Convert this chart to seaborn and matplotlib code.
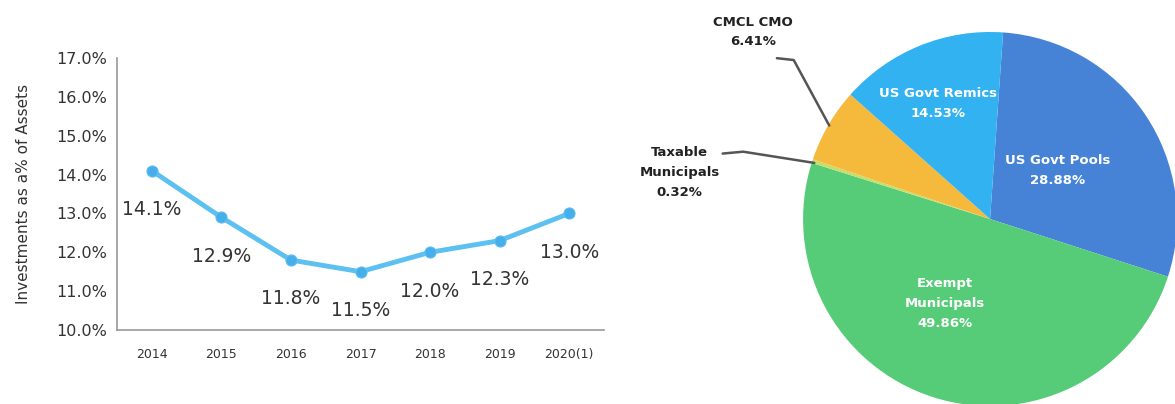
import pandas as pd
import seaborn as sns
import matplotlib.pyplot as plt

# Line chart data
years = ["2014", "2015", "2016", "2017", "2018", "2019", "2020(1)"]
invest_pct = [14.1, 12.9, 11.8, 11.5, 12.0, 12.3, 13.0]

# Pie chart data (clockwise from top)
pie_labels = ["US Govt Pools", "Exempt\nMunicipals", "Taxable\nMunicipals", "CMCL CMO", "US Govt Remics"]
pie_values = [28.88, 49.86, 0.32, 6.41, 14.53]
pie_colors = ["#4683D6", "#57CC78", "#C9DD6A", "#F5B93B", "#33B2F2"]

sns.set_style("white")
plt.rcParams['font.family'] = ['DejaVu Sans']

df = pd.DataFrame({"Year": years, "Pct": invest_pct})

fig = plt.figure(figsize=(11.75, 4.04), dpi=100)

# ---- line chart ----
ax = fig.add_axes([117 / 1175, 1 - 330 / 404, (604 - 117) / 1175, (330 - 58) / 404])
sns.lineplot(data=df, x="Year", y="Pct", ax=ax, color="#5CC0F0", linewidth=3.5,
             marker="o", markersize=8, markerfacecolor="#45AEEB", markeredgecolor="#5CC0F0")
for i, v in enumerate(invest_pct):
    ax.annotate(f"{v:.1f}%", (i, v), xytext=(0, -28), textcoords="offset points",
                ha="center", va="center", fontsize=13.5, color="#333333")

ax.set_xlim(-0.5, len(years) - 0.5)
ax.set_ylim(10, 17)
ax.set_yticks([10, 11, 12, 13, 14, 15, 16, 17])
ax.set_yticklabels([f"{t:.1f}%" for t in range(10, 18)], fontsize=11.5, color="#333333")
ax.set_xticks(range(len(years)))
ax.set_xticklabels(years, fontsize=9, color="#333333")
ax.set_xticks([i - 0.5 for i in range(len(years) + 1)], minor=True)
ax.tick_params(axis="x", which="major", length=0, pad=13)
ax.tick_params(axis="x", which="minor", length=4, color="#999999", direction="out")
ax.tick_params(axis="y", length=4, color="#999999", direction="out", pad=3)
ax.set_xlabel("")
ax.set_ylabel("Investments as a% of Assets", fontsize=11, color="#333333", labelpad=18)
for s in ["top", "right"]:
    ax.spines[s].set_visible(False)
for s in ["left", "bottom"]:
    ax.spines[s].set_color("#999999")
    ax.spines[s].set_linewidth(1.2)

# ---- pie chart ----
pax = fig.add_axes([620 / 1175, 0, 555 / 1175, 1])
wedges, _ = pax.pie(pie_values, colors=pie_colors, startangle=86, counterclock=False,
                    radius=1, center=(0, 0), wedgeprops=dict(linewidth=0))
pax.set_xlim(-1.979, 0.989)
pax.set_ylim(-0.989, 1.171)
pax.set_aspect("auto")
pax.axis("off")

inside = {0: (0.36, 0.26), 1: (-0.24, -0.45), 4: (-0.28, 0.62)}
for i, (x, y) in inside.items():
    pax.text(x, y, f"{pie_labels[i]}\n{pie_values[i]:.2f}%", ha="center", va="center",
             color="white", fontsize=9.5, fontweight="bold", linespacing=1.7)

# outside labels with leader lines
pax.text(-1.27, 1.0, f"{pie_labels[3]}\n{pie_values[3]:.2f}%", ha="center", va="center",
         color="#222222", fontsize=9.5, fontweight="bold", linespacing=1.6)
pax.plot([-1.14, -1.05, -0.86], [0.86, 0.85, 0.50], color="#555555", lw=1.8)
pax.text(-1.66, 0.25, f"{pie_labels[2]}\n{pie_values[2]:.2f}%", ha="center", va="center",
         color="#222222", fontsize=9.5, fontweight="bold", linespacing=1.7)
pax.plot([-1.43, -1.32, -0.94], [0.35, 0.36, 0.30], color="#555555", lw=1.8)

fig.savefig("out.png", dpi=100)
